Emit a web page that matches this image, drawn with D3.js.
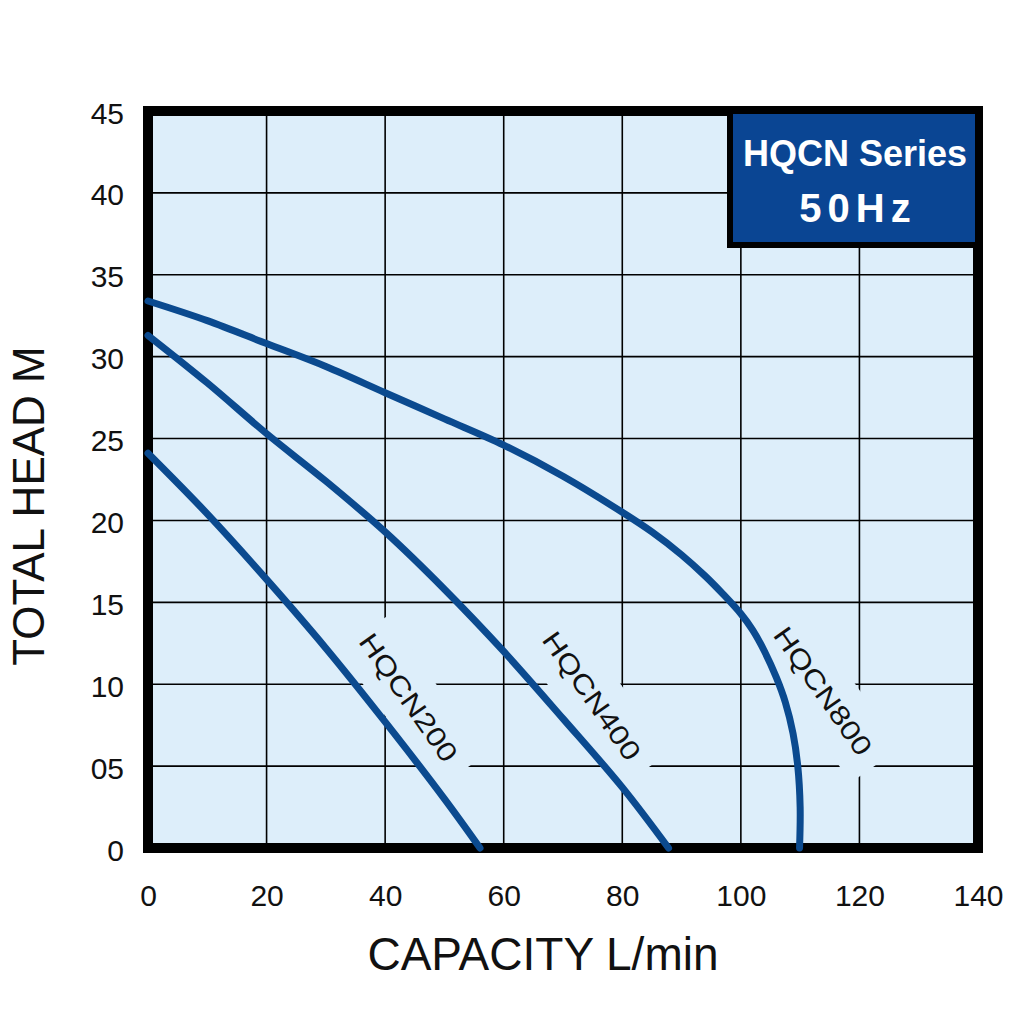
<!DOCTYPE html>
<html>
<head>
<meta charset="utf-8">
<script src="https://cdn.jsdelivr.net/npm/d3@7"></script>
<style>
  body { margin: 0; background: #fff; }
  svg text { font-family: "Liberation Sans", Arial, sans-serif; }
</style>
</head>
<body>
<div id="chart"></div>
<script>
// pump curves: [capacity L/min, head m]
const hqcn200 = [[0, 24.1], [10, 20.4], [20, 16.4], [30, 12.2], [40, 7.7], [50, 3.0], [56, 0]];
const hqcn400 = [[0, 31.3], [10, 28.4], [20, 25.3], [30, 22.4], [40, 19.3], [50, 15.8], [60, 12.0], [70, 7.9], [80, 3.7], [87.8, 0]];
const hqcn800 = [[0, 33.4], [10, 32.2], [20, 30.8], [30, 29.4], [40, 27.8], [50, 26.2], [60, 24.6], [70, 22.7], [80, 20.5], [85, 19.3], [90, 17.9], [94, 16.6], [97, 15.5], [100, 14.3], [102, 13.3], [104, 12.0], [106, 10.4], [107.5, 8.9], [108.8, 7.0], [109.6, 5.0], [110, 2.5], [109.9, 0]];

const seriesNames = ["HQCN200", "HQCN400", "HQCN800"];
// where each name sits (capacity, head)
const labelSpots = [[44.0, 9.2], [74.9, 9.3], [113.9, 9.6]];

const xTicks = [0, 20, 40, 60, 80, 100, 120, 140];
const yTicks = [0, 5, 10, 15, 20, 25, 30, 35, 40, 45];
const yTickLabels = ["0", "05", "10", "15", "20", "25", "30", "35", "40", "45"];

const width = 1024, height = 1024;
const bg = "#ddeefa";
const blue = "#0b4a8f";

const svg = d3.select("#chart").append("svg")
    .attr("width", width)
    .attr("height", height);

const x = d3.scaleLinear().domain([0, 140]).range([148, 978]);
const y = d3.scaleLinear().domain([0, 45]).range([848, 111]);

// plot background
svg.append("rect")
    .attr("x", x(0)).attr("y", y(45))
    .attr("width", x(140) - x(0)).attr("height", y(0) - y(45))
    .attr("fill", bg);

// grid
const grid = svg.append("g").attr("stroke", "#000").attr("stroke-width", 1.6);
grid.selectAll(".gx").data(xTicks.slice(1, -1)).enter().append("line")
    .attr("x1", d => x(d)).attr("x2", d => x(d))
    .attr("y1", y(45)).attr("y2", y(0));
grid.selectAll(".gy").data(yTicks.slice(1, -1)).enter().append("line")
    .attr("y1", d => y(d)).attr("y2", d => y(d))
    .attr("x1", x(0)).attr("x2", x(140));

// knock-out patches behind the curve names
const angle = 55;
svg.append("g").selectAll("rect")
    .data(labelSpots).enter().append("rect")
    .attr("x", -79).attr("y", -30)
    .attr("width", 170).attr("height", 60)
    .attr("fill", bg)
    .attr("transform", d => `translate(${x(d[0])},${y(d[1])}) rotate(${angle})`);

// frame
svg.append("rect")
    .attr("x", x(0)).attr("y", y(45))
    .attr("width", x(140) - x(0)).attr("height", y(0) - y(45))
    .attr("fill", "none")
    .attr("stroke", "#000")
    .attr("stroke-width", 10);

// curves
const line = d3.line()
    .x(d => x(d[0]))
    .y(d => y(d[1]))
    .curve(d3.curveCatmullRom.alpha(0.5));

svg.append("g").selectAll("path")
    .data([hqcn200, hqcn400, hqcn800]).enter().append("path")
    .attr("d", line)
    .attr("fill", "none")
    .attr("stroke", blue)
    .attr("stroke-width", 7)
    .attr("stroke-linecap", "round");

// curve names
svg.append("g").selectAll("text")
    .data(labelSpots).enter().append("text")
    .attr("transform", d => `translate(${x(d[0])},${y(d[1])}) rotate(${angle})`)
    .attr("text-anchor", "middle")
    .attr("dy", "0.36em")
    .attr("font-size", 27)
    .attr("textLength", 150)
    .attr("lengthAdjust", "spacingAndGlyphs")
    .attr("fill", "#111")
    .text((d, i) => seriesNames[i]);

// axes
const xAxis = svg.append("g")
    .attr("transform", `translate(0,${y(0)})`)
    .call(d3.axisBottom(x).tickValues(xTicks).tickSize(0).tickPadding(37));
xAxis.select(".domain").remove();
xAxis.selectAll("text").attr("font-size", 30).attr("fill", "#111")
    .style("font-family", "'Liberation Sans', Arial, sans-serif");

const yAxis = svg.append("g")
    .attr("transform", `translate(${x(0)},0)`)
    .call(d3.axisLeft(y).tickValues(yTicks).tickSize(0).tickPadding(24)
        .tickFormat((d, i) => yTickLabels[i]));
yAxis.select(".domain").remove();
yAxis.selectAll("text").attr("font-size", 30).attr("fill", "#111").attr("dy", "0.4em")
    .style("font-family", "'Liberation Sans', Arial, sans-serif");

// axis titles
svg.append("text")
    .attr("x", 543).attr("y", 970)
    .attr("text-anchor", "middle")
    .attr("font-size", 46)
    .attr("fill", "#111")
    .text("CAPACITY L/min");

svg.append("text")
    .attr("transform", "translate(44,506) rotate(-90)")
    .attr("text-anchor", "middle")
    .attr("font-size", 44)
    .attr("fill", "#111")
    .text("TOTAL HEAD M");

// series box
const box = svg.append("g");
box.append("rect")
    .attr("x", 730).attr("y", y(45))
    .attr("width", x(140) - 730).attr("height", 134)
    .attr("fill", "#0a4593")
    .attr("stroke", "#000")
    .attr("stroke-width", 6);
box.append("text")
    .attr("x", 855).attr("y", 166)
    .attr("text-anchor", "middle")
    .attr("font-size", 36)
    .attr("font-weight", "bold")
    .attr("fill", "#fff")
    .text("HQCN Series");
box.append("text")
    .attr("x", 858).attr("y", 222)
    .attr("text-anchor", "middle")
    .attr("font-size", 40)
    .attr("font-weight", "bold")
    .attr("letter-spacing", 6)
    .attr("fill", "#fff")
    .text("50Hz");
</script>
</body>
</html>
